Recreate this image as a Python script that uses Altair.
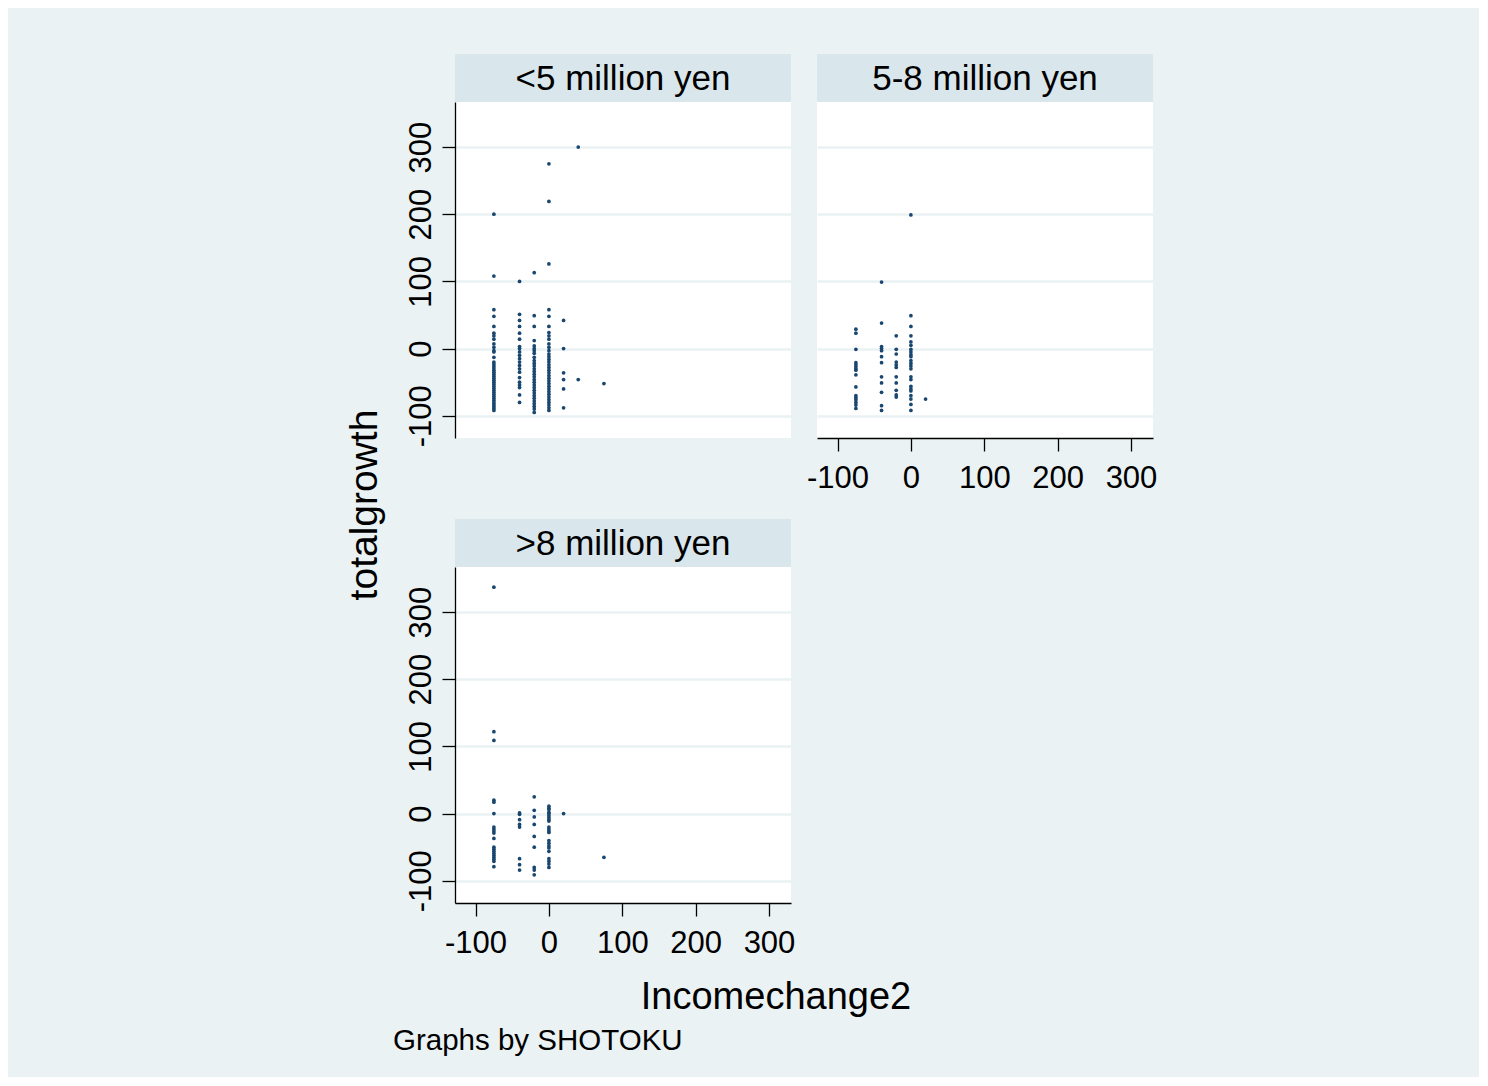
import altair as alt
import pandas as pd

# ---------------- data ----------------
GROUPS = ["<5 million yen", "5-8 million yen", ">8 million yen"]

# totalgrowth values at each Incomechange2 level, per SHOTOKU group
LOW = {
    -75: [200, 108, 58, 48, 33, 23, 19, 14, 7, 2, -3, -5, -13, -20, -23, -26, -29, -32,
          -35, -38, -41, -44, -47, -50, -53, -56, -59, -62, -65, -68, -71, -74, -77, -80,
          -83, -86, -89, -92],
    -40: [100, 51, 42, 33, 23, 14, 3, 0, -5, -10, -15, -20, -25, -30, -35, -43, -50, -54,
          -58, -69, -80],
    -20: [113, 49, 33, 12, 4, 0, -3, -7, -13, -18, -22, -26, -30, -34, -38, -42, -46, -50,
          -54, -58, -62, -66, -70, -74, -78, -82, -86, -90, -95],
    0: [275, 219, 126, 58, 48, 33, 24, 19, 14, 7, 2, -3, -8, -12, -16, -20, -24, -28, -32,
        -36, -40, -44, -48, -52, -56, -60, -64, -68, -72, -76, -80, -84, -88, -92],
    20: [42, 0, -36, -46, -60, -88],
    40: [300, -46],
    75: [-52],
}
MID = {
    -75: [29, 23, -1, -21, -24, -27, -30, -32, -39, -57, -70, -73, -76, -80, -84, -89],
    -40: [99, 38, 3, 0, -3, -12, -21, -42, -51, -65, -85, -92],
    -20: [19, -1, -8, -20, -24, -28, -42, -51, -62, -69, -72],
    0: [199, 49, 33, 19, 10, 5, -1, -5, -9, -12, -18, -22, -26, -30, -42, -46, -56, -60,
        -63, -70, -75, -83, -92],
    20: [-75],
}
HIGH = {
    -75: [337, 122, 109, 20, 17, 0, -20, -23, -26, -29, -37, -50, -53, -56, -59, -62, -65,
          -68, -71, -79],
    -40: [1, -1, -9, -16, -20, -67, -76, -84],
    -20: [25, 5, -5, -16, -34, -50, -80, -84, -91],
    0: [11, 8, 6, 2, 0, -3, -6, -9, -11, -20, -23, -26, -28, -40, -44, -48, -51, -56, -67,
        -71, -75, -80],
    20: [0],
    75: [-65],
}

TICK_VALUES = [-100, 0, 100, 200, 300]
X_TITLE = "Incomechange2"
Y_TITLE = "totalgrowth"
NOTE = "Graphs by SHOTOKU"

# ---------------- style ----------------
BG = "#eaf2f3"
STRIP = "#d9e6eb"
NAVY = "#1a476f"
FONT = "Liberation Sans"
W, H, HH = 336, 336, 48
XDOM = [-128, 330]
YDOM = [-133, 367]


def points_df(d):
    return pd.DataFrame([{"x": x, "y": y} for x, ys in d.items() for y in ys])


def panel(d, label, show_x, show_y):
    x_axis = alt.Axis(
        values=TICK_VALUES, grid=False, title=None,
        domainColor="black", domainWidth=1.3, tickColor="black", tickWidth=1.3,
        tickSize=13, labelFont=FONT, labelFontSize=31, labelColor="black",
        labelPadding=12, labelFlush=False, labelOverlap=False,
        labelExpr="datum.value + ''",
    )
    y_axis = alt.Axis(
        values=TICK_VALUES, grid=True, gridColor=BG, gridWidth=2.5, title=None,
        domain=show_y, ticks=show_y, labels=show_y,
        domainColor="black", domainWidth=1.3, tickColor="black", tickWidth=1.3,
        tickSize=13, labelFont=FONT, labelFontSize=31, labelColor="black",
        labelAngle=270, labelAlign="center", labelBaseline="alphabetic",
        labelPadding=12, labelFlush=False, labelOverlap=False,
        labelExpr="datum.value + ''",
    )
    pts = alt.Chart(points_df(d)).mark_circle(size=14, color=NAVY, opacity=1).encode(
        x=alt.X("x:Q", scale=alt.Scale(domain=XDOM, nice=False, zero=False),
                axis=x_axis if show_x else None),
        y=alt.Y("y:Q", scale=alt.Scale(domain=YDOM, nice=False, zero=False), axis=y_axis),
    )
    lab = pd.DataFrame({"label": [label]})
    strip = alt.Chart(lab).mark_rect(color=STRIP).encode(
        x=alt.value(0), x2=alt.value(W), y=alt.value(-HH), y2=alt.value(0)
    )
    strip_text = alt.Chart(lab).mark_text(
        font=FONT, fontSize=35, color="black", baseline="middle", align="center"
    ).encode(x=alt.value(W / 2), y=alt.value(-HH / 2 + 1), text="label:N")
    return alt.layer(pts, strip, strip_text).properties(
        width=W, height=H, view=alt.ViewBackground(fill="white", strokeWidth=0)
    )


p1 = panel(LOW, GROUPS[0], show_x=False, show_y=True)
p2 = panel(MID, GROUPS[1], show_x=True, show_y=False)
p3 = panel(HIGH, GROUPS[2], show_x=True, show_y=True)

grid = alt.vconcat(alt.hconcat(p1, p2, spacing=15), p3, spacing=26)

ytitle = alt.Chart(pd.DataFrame({"t": [Y_TITLE]})).mark_text(
    font=FONT, fontSize=39, angle=270, color="black", baseline="middle", align="center"
).encode(x=alt.value(20), y=alt.value(403), text="t:N").properties(
    width=40, height=801, view=alt.ViewBackground(strokeWidth=0)
)

xt = alt.Chart(pd.DataFrame({"t": [X_TITLE]})).mark_text(
    font=FONT, fontSize=38, color="black", baseline="alphabetic", align="center"
).encode(x=alt.value(431), y=alt.value(48), text="t:N")
note = alt.Chart(pd.DataFrame({"t": [NOTE]})).mark_text(
    font=FONT, fontSize=29.5, color="black", baseline="alphabetic", align="left"
).encode(x=alt.value(48), y=alt.value(89), text="t:N")
bottom = alt.layer(xt, note).properties(
    width=800, height=100, view=alt.ViewBackground(strokeWidth=0)
)

top = alt.hconcat(ytitle, grid, spacing=19)

chart = alt.vconcat(top, bottom, spacing=3).properties(
    padding={"left": 337, "top": 46, "right": 322, "bottom": 16},
    background=BG,
).configure_view(strokeWidth=0)

chart.save("out.html", embed_options={"renderer": "svg", "actions": False})
